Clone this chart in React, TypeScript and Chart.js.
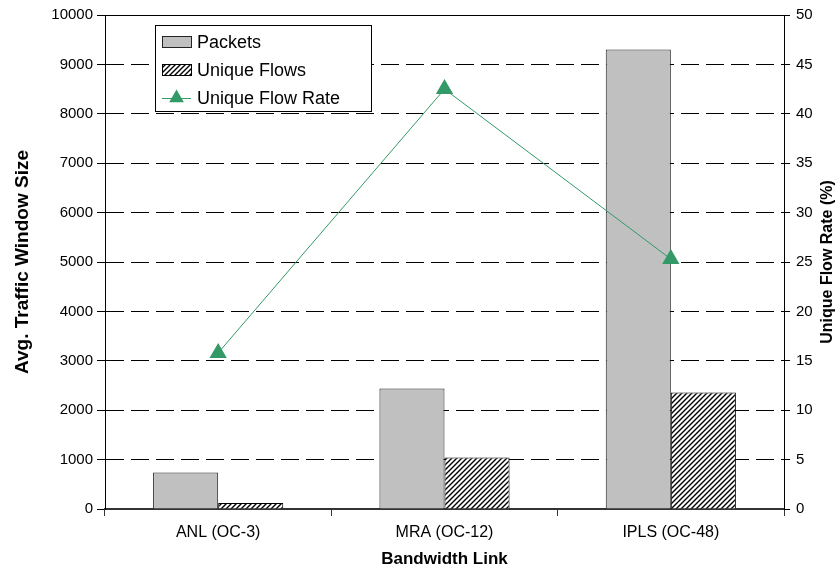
import React, { useEffect, useRef } from "react";
import { Chart, registerables } from "chart.js";
Chart.register(...registerables);

const categories = ["ANL (OC-3)", "MRA (OC-12)", "IPLS (OC-48)"];
const packets = [740, 2440, 9300];
const uniqueFlows = [120, 1040, 2360];
const uniqueFlowRate = [15.8, 42.5, 25.3];
const legendLabels = ["Packets", "Unique Flows", "Unique Flow Rate"];

const FONT = "'Liberation Sans', Arial, sans-serif";
const GREEN = "#339966";
const GRAY = "#c0c0c0";

function makeHatch(): CanvasPattern | string {
  const s = 5;
  const c = document.createElement("canvas");
  c.width = s;
  c.height = s;
  const g = c.getContext("2d");
  if (!g) return "#888";
  g.fillStyle = "#fff";
  g.fillRect(0, 0, s, s);
  g.strokeStyle = "#000";
  g.lineWidth = 1.4;
  g.beginPath();
  g.moveTo(0, s);
  g.lineTo(s, 0);
  g.moveTo(-1, 1);
  g.lineTo(1, -1);
  g.moveTo(s - 1, s + 1);
  g.lineTo(s + 1, s - 1);
  g.stroke();
  const p = g.createPattern(c, "repeat");
  return p || "#888";
}

export default function App() {
  const ref = useRef<HTMLCanvasElement>(null);
  useEffect(() => {
    if (!ref.current) return;
    const hatch = makeHatch();

    const overlay = {
      id: "overlay",
      afterDraw(chart: any) {
        const ctx = chart.ctx as CanvasRenderingContext2D;
        const a = chart.chartArea;
        ctx.save();
        ctx.strokeStyle = "#000";
        ctx.lineWidth = 1;
        ctx.beginPath();
        ctx.moveTo(a.left, a.top + 0.5);
        ctx.lineTo(a.right, a.top + 0.5);
        ctx.stroke();

        ctx.fillStyle = "#000";
        ctx.font = `bold 16px ${FONT}`;
        ctx.textAlign = "center";
        ctx.textBaseline = "middle";
        ctx.translate(828, (a.top + a.bottom) / 2);
        ctx.rotate(-Math.PI / 2);
        ctx.fillText("Unique Flow Rate (%)", 0, 0);
        ctx.restore();

        ctx.save();
        const bx = 155.5, by = 25.5, bw = 216, bh = 86;
        ctx.fillStyle = "#fff";
        ctx.fillRect(bx, by, bw, bh);
        ctx.strokeStyle = "#000";
        ctx.lineWidth = 1;
        ctx.strokeRect(bx, by, bw, bh);
        const rows = [42, 70, 98];
        const sx = 162, sw = 29;
        ctx.fillStyle = GRAY;
        ctx.fillRect(sx, rows[0] - 6, sw, 11);
        ctx.strokeStyle = "#222";
        ctx.strokeRect(sx + 0.5, rows[0] - 5.5, sw, 11);
        ctx.fillStyle = hatch as any;
        ctx.fillRect(sx, rows[1] - 6, sw, 11);
        ctx.strokeStyle = "#000";
        ctx.strokeRect(sx + 0.5, rows[1] - 5.5, sw, 11);
        ctx.strokeStyle = GREEN;
        ctx.beginPath();
        ctx.moveTo(sx, rows[2] + 0.5);
        ctx.lineTo(sx + sw, rows[2] + 0.5);
        ctx.stroke();
        ctx.fillStyle = GREEN;
        const cx = sx + sw / 2, cy = rows[2];
        const r = 8.5;
        ctx.beginPath();
        ctx.moveTo(cx, cy - r);
        ctx.lineTo(cx + r * 0.866, cy + r / 2);
        ctx.lineTo(cx - r * 0.866, cy + r / 2);
        ctx.closePath();
        ctx.fill();
        ctx.fillStyle = "#000";
        ctx.font = `18px ${FONT}`;
        ctx.textAlign = "left";
        ctx.textBaseline = "middle";
        legendLabels.forEach((t, i) => ctx.fillText(t, 197, rows[i] + 1));
        ctx.restore();
      },
    };

    const chart = new Chart(ref.current, {
      type: "bar",
      data: {
        labels: categories,
        datasets: [
          {
            type: "bar",
            label: legendLabels[0],
            data: packets,
            backgroundColor: GRAY,
            borderColor: "#222",
            borderWidth: 1,
            yAxisID: "y",
            order: 1,
          },
          {
            type: "bar",
            label: legendLabels[1],
            data: uniqueFlows,
            backgroundColor: hatch as any,
            borderColor: "#000",
            borderWidth: 1,
            yAxisID: "y",
            order: 1,
          },
          {
            type: "line",
            label: legendLabels[2],
            data: uniqueFlowRate,
            borderColor: GREEN,
            borderWidth: 1,
            backgroundColor: GREEN,
            pointStyle: "triangle",
            pointRadius: 10,
            pointBackgroundColor: GREEN,
            pointBorderColor: GREEN,
            pointBorderWidth: 0,
            yAxisID: "y1",
            order: 0,
          } as any,
        ],
      },
      options: {
        responsive: false,
        animation: false,
        events: [],
        layout: { padding: { top: 13, left: 0, right: 0, bottom: 0 } },
        datasets: {
          bar: { categoryPercentage: 0.575, barPercentage: 1 },
        },
        plugins: {
          legend: { display: false },
          tooltip: { enabled: false },
          title: { display: false },
        },
        scales: {
          x: {
            grid: {
              display: true,
              drawOnChartArea: false,
              drawTicks: true,
              tickLength: 7,
              color: "#333",
              offset: true,
            },
            border: { color: "#333", width: 2 },
            ticks: { font: { family: FONT, size: 16 }, color: "#000", padding: 7 },
            title: {
              display: true,
              text: "Bandwidth Link",
              font: { family: FONT, size: 17, weight: "bold" },
              color: "#000",
              padding: { top: 0, bottom: 9 },
            },
            afterFit: (s: any) => {
              s.height = 70;
            },
          },
          y: {
            position: "left",
            min: 0,
            max: 10000,
            ticks: {
              stepSize: 1000,
              font: { family: FONT, size: 15 },
              color: "#000",
              padding: 4,
              callback: (v: any) => String(v),
            },
            grid: { color: "#000", lineWidth: 1, tickLength: 8, tickColor: "#000" },
            border: { color: "#000", width: 1, dash: [18, 7] },
            title: {
              display: true,
              text: "Avg. Traffic Window Size",
              font: { family: FONT, size: 19, weight: "bold" },
              color: "#000",
              padding: { top: 11, bottom: 0 },
            },
            afterFit: (s: any) => {
              s.width = 105;
            },
          },
          y1: {
            position: "right",
            min: 0,
            max: 50,
            ticks: {
              stepSize: 5,
              font: { family: FONT, size: 15 },
              color: "#000",
              padding: 6,
              callback: (v: any) => String(v),
            },
            grid: { drawOnChartArea: false, tickLength: 6, tickColor: "#000" },
            border: { color: "#000", width: 1 },
            afterFit: (s: any) => {
              s.width = 56;
            },
          },
        },
      } as any,
      plugins: [overlay],
    });
    return () => chart.destroy();
  }, []);

  return (
    <div style={{ position: "fixed", left: 0, top: 0, width: 840, height: 579, background: "#fff" }}>
      <canvas ref={ref} width={840} height={579} style={{ display: "block" }} />
    </div>
  );
}
